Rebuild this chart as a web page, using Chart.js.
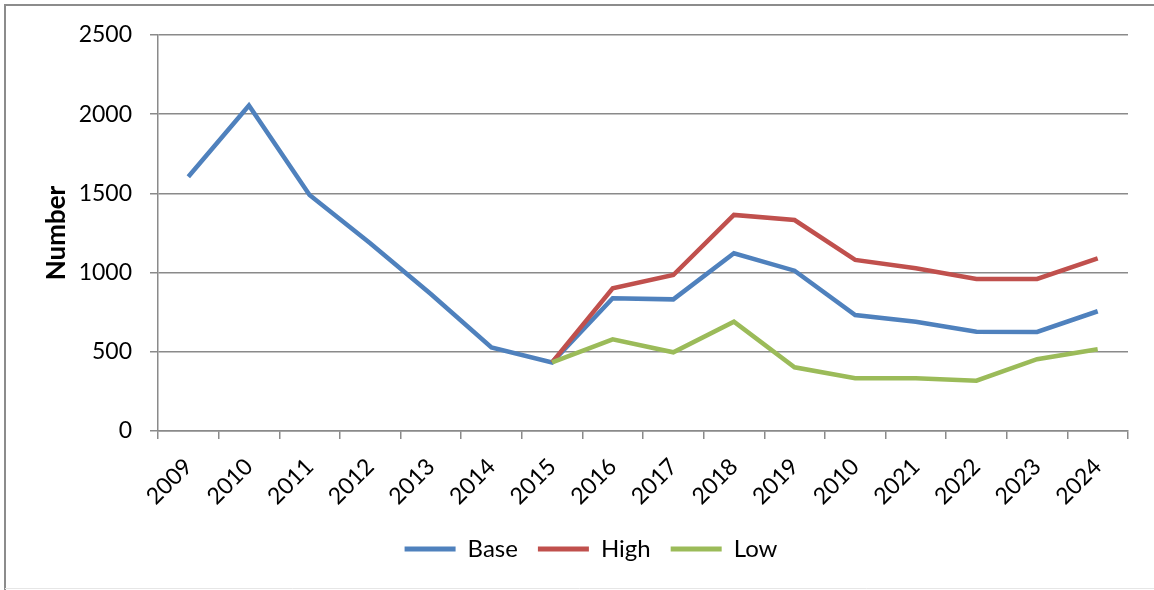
<!DOCTYPE html>
<html>
<head>
<meta charset="utf-8">
<script src="https://cdn.jsdelivr.net/npm/chart.js@4.4.1/dist/chart.umd.min.js"></script>
<style>
  html, body { margin: 0; padding: 0; background: #ffffff; }
  #wrap { position: relative; width: 1154px; height: 590px; }
</style>
</head>
<body>
<div id="wrap"><canvas id="chart" width="1154" height="590"></canvas></div>
<script>
// Years along the horizontal axis (the 2010 after 2019 is part of the source labels)
const categories = ['2009', '2010', '2011', '2012', '2013', '2014', '2015', '2016',
                    '2017', '2018', '2019', '2010', '2021', '2022', '2023', '2024'];

// Scenario series
const baseValues = [1605, 2055, 1490, 1185, 865, 528, 433, 838, 831, 1122, 1012, 732, 690, 627, 625, 756];
const highValues = [null, null, null, null, null, null, 433, 901, 985, 1364, 1332, 1080, 1027, 960, 960, 1090];
const lowValues  = [null, null, null, null, null, null, 433, 579, 497, 690, 402, 333, 333, 318, 453, 516];

const seriesNames = ['Base', 'High', 'Low'];
const seriesColors = ['#4F81BD', '#C0504D', '#9BBB59'];

// Value axis
const yMin = 0;
const yMax = 2500;
const yStep = 500;

const FONT = 'Lato, "Open Sans", sans-serif';
const AXIS_GREY = '#8a8a8a';

// Thin frame around the chart object
const framePlugin = {
  id: 'frame',
  beforeDraw(chart) {
    const ctx = chart.ctx;
    ctx.save();
    ctx.strokeStyle = '#8c8c8c';
    ctx.lineWidth = 2;
    ctx.beginPath();
    ctx.moveTo(5, 590);
    ctx.lineTo(5, 5);
    ctx.lineTo(1154, 5);
    ctx.stroke();
    ctx.strokeStyle = '#e6e6e6';
    ctx.lineWidth = 1;
    ctx.beginPath();
    ctx.moveTo(5, 588.5);
    ctx.lineTo(1154, 588.5);
    ctx.stroke();
    ctx.restore();
  }
};

const ds = (i, data, order) => ({
  label: seriesNames[i],
  data: data,
  borderColor: seriesColors[i],
  backgroundColor: seriesColors[i],
  borderWidth: 4.5,
  pointRadius: 0,
  pointHoverRadius: 0,
  tension: 0,
  spanGaps: false,
  order: order,
  borderJoinStyle: 'miter',
  borderCapStyle: 'butt'
});

new Chart(document.getElementById('chart'), {
  type: 'line',
  data: {
    labels: categories,
    datasets: [
      ds(0, baseValues, 2),
      ds(1, highValues, 1),
      ds(2, lowValues, 0)
    ]
  },
  options: {
    responsive: false,
    animation: false,
    devicePixelRatio: 1,
    layout: { padding: { left: 54, top: 35, right: 26, bottom: 19 } },
    plugins: {
      tooltip: { enabled: false },
      legend: {
        position: 'bottom',
        labels: {
          font: { family: FONT, size: 24 },
          color: '#000000',
          boxWidth: 51,
          boxHeight: 5,
          padding: 20,
          generateLabels(chart) {
            return chart.data.datasets.map((d, i) => ({
              text: d.label,
              fillStyle: d.borderColor,
              strokeStyle: d.borderColor,
              lineWidth: 0,
              hidden: false,
              datasetIndex: i,
              fontColor: '#000000'
            }));
          }
        }
      }
    },
    scales: {
      x: {
        type: 'category',
        offset: true,
        grid: {
          offset: true,
          drawOnChartArea: false,
          drawTicks: true,
          tickLength: 8,
          color: AXIS_GREY,
          lineWidth: 1.5
        },
        border: { display: true, color: AXIS_GREY, width: 1.5 },
        ticks: {
          autoSkip: false,
          minRotation: 45,
          maxRotation: 45,
          labelOffset: 0,
          padding: 14,
          color: '#000000',
          font: { family: FONT, size: 23 }
        },
        afterFit(scale) { scale.height = 86; }
      },
      y: {
        min: yMin,
        max: yMax,
        ticks: {
          stepSize: yStep,
          padding: 18,
          color: '#000000',
          font: { family: FONT, size: 23 },
          callback: (v) => String(v)
        },
        grid: {
          color: AXIS_GREY,
          lineWidth: 1.5,
          tickLength: 8,
          drawTicks: true
        },
        border: { display: true, color: AXIS_GREY, width: 1.5 },
        title: {
          display: true,
          text: 'Number',
          color: '#000000',
          font: { family: FONT, size: 26, weight: 'bold', lineHeight: 0.2 },
          padding: { top: 0, bottom: 0 }
        },
        afterFit(scale) { scale.width = 104; }
      }
    }
  },
  plugins: [framePlugin]
});
</script>
</body>
</html>
